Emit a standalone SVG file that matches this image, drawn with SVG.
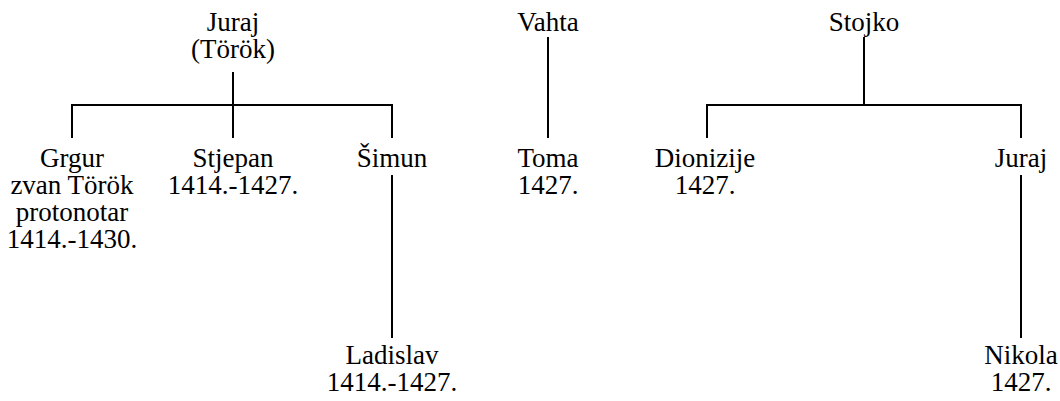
<svg xmlns="http://www.w3.org/2000/svg" width="1060" height="401" viewBox="0 0 1060 401">
<style>
text{font-family:"Liberation Serif","Times New Roman",serif;font-size:27px;fill:#000;text-anchor:middle}
.c line{stroke:#000;stroke-width:2;fill:none}
</style>
<rect width="1060" height="401" fill="#fff"/>
<g class="c" id="connectors">
<line x1="233" y1="72" x2="233" y2="105"/>
<line x1="72" y1="105" x2="392" y2="105"/>
<line x1="72" y1="104" x2="72" y2="138"/>
<line x1="233" y1="105" x2="233" y2="138"/>
<line x1="392" y1="104" x2="392" y2="138"/>
<line x1="392" y1="175" x2="392" y2="338"/>
<line x1="548" y1="37" x2="548" y2="138"/>
<line x1="864" y1="37" x2="864" y2="105"/>
<line x1="707" y1="105" x2="1021" y2="105"/>
<line x1="707" y1="104" x2="707" y2="138"/>
<line x1="1021" y1="104" x2="1021" y2="138"/>
<line x1="1021" y1="175" x2="1021" y2="338"/>
</g>
<g id="n-juraj-torok"><text x="233" y="31">Juraj</text><text x="233" y="58">(Török)</text></g>
<g id="n-grgur"><text x="72" y="167">Grgur</text><text x="72" y="194">zvan Török</text><text x="72" y="221">protonotar</text><text x="72" y="248">1414.-1430.</text></g>
<g id="n-stjepan"><text x="233" y="167">Stjepan</text><text x="233" y="194">1414.-1427.</text></g>
<g id="n-simun"><text x="392" y="167">Šimun</text></g>
<g id="n-ladislav"><text x="392" y="364">Ladislav</text><text x="392" y="391">1414.-1427.</text></g>
<g id="n-vahta"><text x="548" y="31">Vahta</text></g>
<g id="n-toma"><text x="548" y="167">Toma</text><text x="548" y="194">1427.</text></g>
<g id="n-stojko"><text x="864" y="31">Stojko</text></g>
<g id="n-dionizije"><text x="705" y="167">Dionizije</text><text x="705" y="194">1427.</text></g>
<g id="n-juraj2"><text x="1021" y="167">Juraj</text></g>
<g id="n-nikola"><text x="1021" y="364">Nikola</text><text x="1021" y="391">1427.</text></g>
</svg>
